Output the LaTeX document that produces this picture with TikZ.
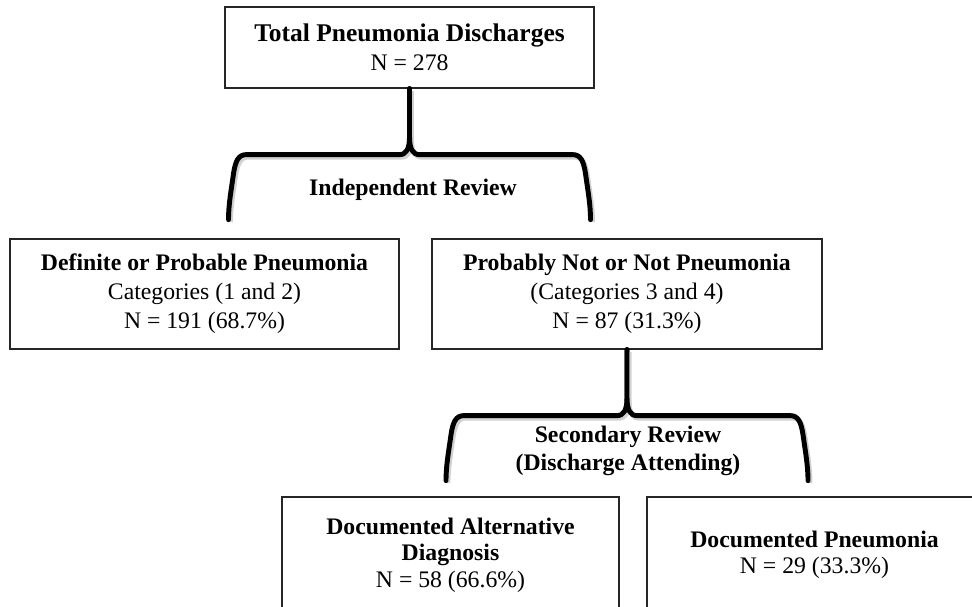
\documentclass[tikz,border=0pt]{standalone}
\usepackage{fontspec}
\setmainfont{Liberation Serif}
\usetikzlibrary{positioning}

\tikzset{
  box/.style={draw=black!85, line width=0.7pt, align=center, inner sep=2pt,
    font=\fontsize{13.5}{16.5}\selectfont},
  outcome/.style={box, font=\fontsize{13.5}{15}\selectfont},
  reviewlabel/.style={align=center, font=\fontsize{13.5}{16}\selectfont\bfseries},
  brace/.style={line width=2.8pt, line cap=round, line join=round,
    preaction={draw=black!18, line width=2.8pt,
      transform canvas={shift={(0.040,-0.050)}}}}
}

\begin{document}
\begin{tikzpicture}
\useasboundingbox (0,0) rectangle (19.440,12.120);
\clip (0,0) rectangle (19.440,12.120);
% boxes
\node[box, minimum width=7.380cm, minimum height=1.620cm] (total) at (8.190,11.170)
  {{\fontsize{14.5}{16.5}\selectfont\textbf{Total Pneumonia Discharges}}\\N = 278};
\node[box, minimum width=7.780cm, minimum height=2.200cm] (definite) at (4.090,6.240)
  {\textbf{Definite or Probable Pneumonia}\\Categories (1 and 2)\\N = 191 (68.7\%)};
\node[box, minimum width=7.800cm, minimum height=2.200cm] (notpna) at (12.540,6.240)
  {\textbf{Probably Not or Not Pneumonia}\\(Categories 3 and 4)\\N = 87 (31.3\%)};
\node[outcome, minimum width=6.740cm, minimum height=2.320cm] (altdx) at (9.010,1.020)
  {\textbf{Documented Alternative}\\\textbf{Diagnosis}\\N = 58 (66.6\%)};
\node[outcome, minimum width=6.700cm, minimum height=2.320cm] (docpna) at (16.290,1.020)
  {\textbf{Documented Pneumonia}\\N = 29 (33.3\%)};
% review labels
\node[reviewlabel] (indep) at (8.260,8.320) {Independent Review};
\node[reviewlabel] (second) at (12.560,3.100) {Secondary Review\\(Discharge Attending)};
% braces
\begin{scope}[shift={(total.south)}]
\draw[brace] (total.south) -- (0,-0.960) .. controls (0,-1.200) and (-0.060,-1.320) .. (-0.200,-1.320)
  -- (-3.260,-1.320) .. controls (-3.420,-1.320) and (-3.480,-1.440) .. (-3.520,-1.700)
  .. controls (-3.560,-2.000) and (-3.620,-2.300) .. (-3.620,-2.620);
\draw[brace] (total.south) -- (0,-0.960) .. controls (0,-1.200) and (0.060,-1.320) .. (0.200,-1.320)
  -- (3.260,-1.320) .. controls (3.420,-1.320) and (3.480,-1.440) .. (3.520,-1.700)
  .. controls (3.560,-2.000) and (3.620,-2.300) .. (3.620,-2.620);
\end{scope}
\begin{scope}[shift={(notpna.south)}]
\draw[brace] (notpna.south) -- (0,-0.960) .. controls (0,-1.200) and (-0.060,-1.320) .. (-0.200,-1.320)
  -- (-3.260,-1.320) .. controls (-3.420,-1.320) and (-3.480,-1.440) .. (-3.520,-1.700)
  .. controls (-3.560,-2.000) and (-3.620,-2.300) .. (-3.620,-2.620);
\draw[brace] (notpna.south) -- (0,-0.960) .. controls (0,-1.200) and (0.060,-1.320) .. (0.200,-1.320)
  -- (3.260,-1.320) .. controls (3.420,-1.320) and (3.480,-1.440) .. (3.520,-1.700)
  .. controls (3.560,-2.000) and (3.620,-2.300) .. (3.620,-2.620);
\end{scope}
\end{tikzpicture}
\end{document}
